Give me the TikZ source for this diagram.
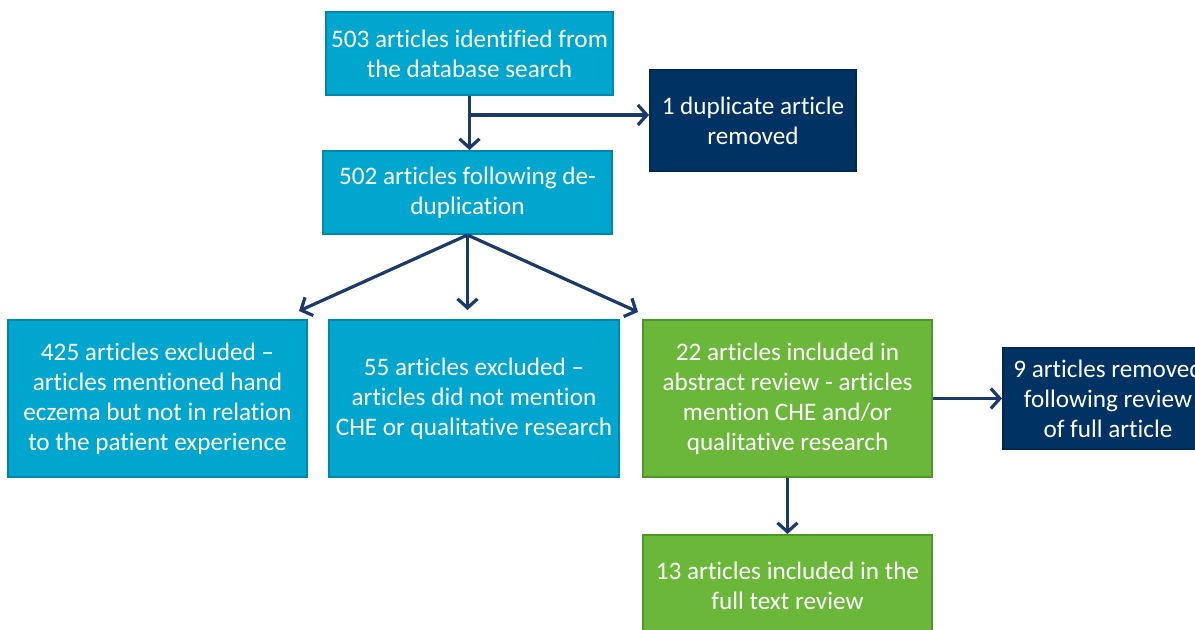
\documentclass[tikz,border=0pt]{standalone}
\usepackage{fontspec}
\setmainfont{Carlito}[Ligatures=NoCommon]
\usepackage{tikz}
\usetikzlibrary{arrows.meta,positioning}
\definecolor{flowcyan}{RGB}{0,166,206}
\definecolor{flowcyanline}{RGB}{0,134,170}
\definecolor{flownavy}{RGB}{0,50,100}
\definecolor{flowgreen}{RGB}{106,183,58}
\definecolor{flowgreenline}{RGB}{78,150,40}
\definecolor{flowarrow}{RGB}{28,58,105}

\begin{document}
\begin{tikzpicture}[
  x=1pt, y=1pt,
  box/.style={align=center, text=white, line width=1pt, inner sep=2pt, font=\fontsize{12.6}{15}\selectfont},
  stagebox/.style={box, draw=flowcyanline, fill=flowcyan},
  keepbox/.style={box, draw=flowgreenline, fill=flowgreen},
  dropbox/.style={box, draw=flownavy!80!black, fill=flownavy},
  arr/.style={-{Straight Barb[length=4.5pt,width=10pt,line width=1.6pt]}, line width=1.6pt, draw=flowarrow}
]
\clip (0,0) rectangle (597.5,-315);
\node[stagebox, minimum width=143.5pt, minimum height=41.5pt] (search) at (234.75,-26.75) {503 articles identified from\\the database search};
\node[stagebox, minimum width=144.5pt, minimum height=41.5pt, below=27pt of search, xshift=-1pt] (dedup) {502 articles following de-\\duplication};
\node[dropbox, minimum width=103pt, minimum height=50.5pt] (dup) at (376.5,-60.25) {1 duplicate article\\removed};
\node[stagebox, minimum width=145pt, minimum height=78.5pt, below=42pt of dedup, xshift=3.25pt] (nopatient) {55 articles excluded --\\articles did not mention\\CHE or qualitative research};
\node[stagebox, minimum width=149.5pt, minimum height=78.5pt, left=10pt of nopatient] (nohand) {425 articles excluded --\\articles mentioned hand\\eczema but not in relation\\to the patient experience};
\node[keepbox, minimum width=144.5pt, minimum height=78.5pt, right=11pt of nopatient] (abstract) {22 articles included in\\abstract review - articles\\mention CHE and/or\\qualitative research};
\node[dropbox, minimum width=105pt, minimum height=50.5pt, right=34.5pt of abstract] (removed) {9 articles removed\\following review\\of full article};
\node[keepbox, minimum width=144.5pt, minimum height=51pt, below=28pt of abstract] (fulltext) {13 articles included in the\\full text review};

\coordinate (dupin) at ([yshift=2.75pt]dup.west);
\draw[arr] (search.south) -- (search.south |- dedup.north);
\draw[arr] (search.south |- dupin) -- (dupin);
\draw[arr] (dedup.south) -- ([xshift=-4.5pt,yshift=4pt]nohand.north east);
\draw[arr] (dedup.south) -- ([yshift=4.5pt]dedup.south |- nopatient.north);
\draw[arr] (dedup.south) -- ([xshift=-2pt,yshift=3.5pt]abstract.north west);
\draw[arr] (abstract.east) -- (removed.west);
\draw[arr] (abstract.south) -- (fulltext.north);
\end{tikzpicture}
\end{document}
